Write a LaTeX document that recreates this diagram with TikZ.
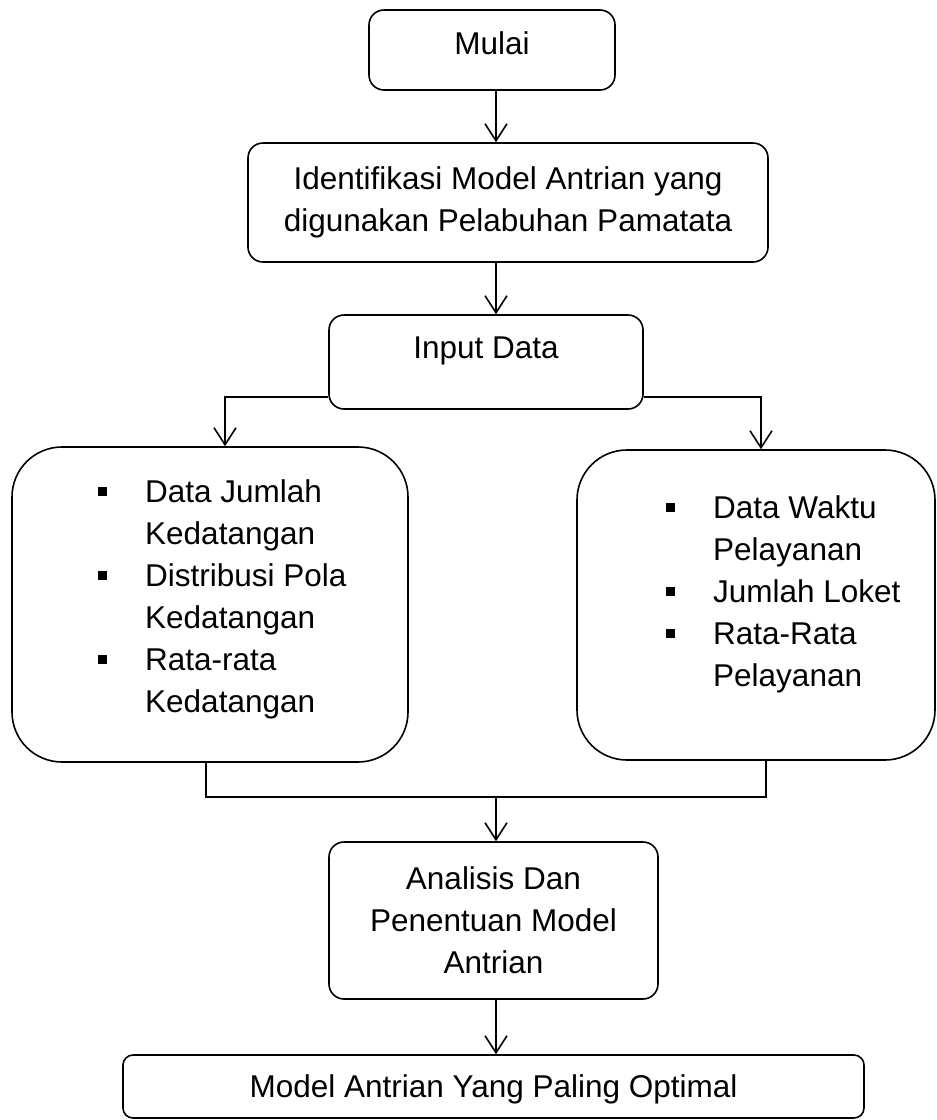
\documentclass[tikz,border=0pt]{standalone}
\usepackage{fontspec}
\setmainfont{Liberation Sans}
\usetikzlibrary{arrows.meta,calc}

\tikzset{
  blok/.style={draw,line width=1.6pt,rounded corners=15pt,align=center,inner sep=0pt,font=\fontsize{31.5}{42}\selectfont},
  blokbesar/.style={blok,rounded corners=50pt},
  daftar/.style={inner sep=0pt,anchor=north west,font=\fontsize{31.5}{42}\selectfont},
  panah/.style={-{Straight Barb[length=17pt,width=22pt]},line width=1.6pt}
}
\newcommand{\bul}{\rule[6.8pt]{9pt}{9pt}}

\begin{document}
\begin{tikzpicture}[x=1pt,y=-1pt]
  \useasboundingbox (0,0) rectangle (937,1120);
  %BLOK
  \node[blok,minimum width=246pt,minimum height=80pt,text depth=14pt] (mulai) at (492,50) {Mulai};
  \node[blok,minimum width=520pt,minimum height=119pt] (ident) at (508,202.5) {Identifikasi Model Antrian yang\\digunakan Pelabuhan Pamatata};
  \node[blok,minimum width=314pt,minimum height=94pt,text depth=28pt] (input) at (486,362) {Input Data};
  \node[blokbesar,minimum width=396pt,minimum height=315pt] (kiri) at (210,604.5) {};
  \node[blokbesar,minimum width=358pt,minimum height=310pt] (kanan) at (756,605) {};
  \node[blok,minimum width=329pt,minimum height=157pt] (analisis) at (493.5,920.5) {Analisis Dan\\Penentuan Model\\Antrian};
  \node[blok,rounded corners=10pt,minimum width=741pt,minimum height=63pt,text depth=0pt] (model) at (493.5,1086.5) {Model Antrian Yang Paling Optimal};
  %DAFTAR
  \node[daftar] (daftarkiri) at (98,473) {\begin{tabular}{@{}p{47pt}@{}l@{}}
    \bul & Data Jumlah\\ & Kedatangan\\
    \bul & Distribusi Pola\\ & Kedatangan\\
    \bul & Rata-rata\\ & Kedatangan
  \end{tabular}};
  \node[daftar] (daftarkanan) at (666,489) {\begin{tabular}{@{}p{47pt}@{}l@{}}
    \bul & Data Waktu\\ & Pelayanan\\
    \bul & Jumlah Loket\\
    \bul & Rata-Rata\\ & Pelayanan
  \end{tabular}};
  %PANAH
  \coordinate (sumbu) at (496,0);
  \coordinate (tengah) at (496,797);
  \draw[panah] (mulai.south -| sumbu) -- (ident.north -| sumbu);
  \draw[panah] (ident.south -| sumbu) -- (input.north -| sumbu);
  \draw[panah] ([yshift=-35pt]input.west) -| ([xshift=15pt]kiri.north);
  \draw[panah] ([yshift=-35pt]input.east) -| ([xshift=5pt]kanan.north);
  \draw[line width=1.6pt] ([xshift=-4pt]kiri.south) |- (tengah) -| ([xshift=10pt]kanan.south);
  \draw[panah] (tengah) -- (analisis.north -| tengah);
  \draw[panah] (analisis.south -| sumbu) -- (model.north -| sumbu);
\end{tikzpicture}
\end{document}
